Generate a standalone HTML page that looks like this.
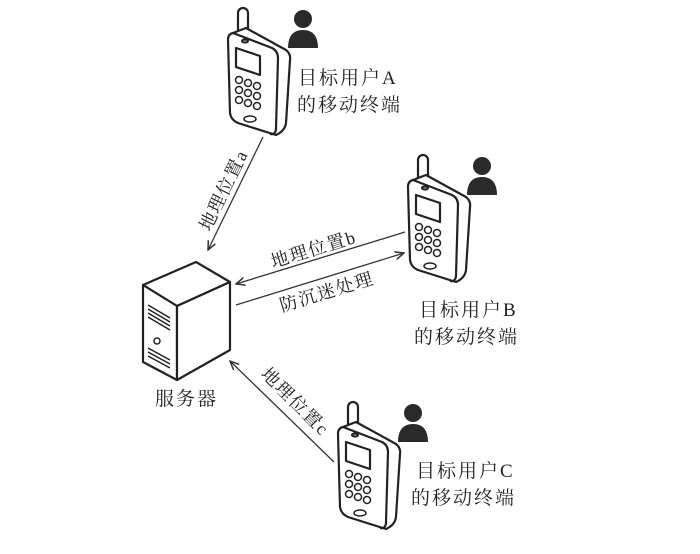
<!DOCTYPE html>
<html><head><meta charset="utf-8"><style>
body{margin:0;background:#fff;width:700px;height:549px;overflow:hidden}
svg text{font-family:"Liberation Serif","Noto Serif CJK SC",serif;fill:#222;font-size:19px;letter-spacing:2px}
svg text.r{font-size:18px;letter-spacing:1.5px}
</style></head><body>
<svg width="700" height="549" viewBox="0 0 700 549">
<defs>
<g id="ph" fill="#fff" stroke="#222" stroke-width="2.2" stroke-linejoin="round">
<rect x="10" y="0" width="10" height="28" rx="5"/>
<path d="M5,25 L18,20 L58,42 Q63,46 62,52 L58,115 Q57,123 48,127 L10,115 Q3,112 2,105 L0,32 Q0,26 5,25 Z"/>
<path d="M5,25 L44,40 Q50,43 50,50 L48,120 Q48,127 42,126" fill="none"/>
<path d="M8,40 L32,48 L32,67 L8,59 Z"/>
<ellipse cx="17" cy="33" rx="3" ry="1.5"/>
<g stroke-width="1.5">
<circle cx="11" cy="72" r="3.5"/><circle cx="20" cy="75" r="3.5"/><circle cx="29" cy="78" r="3.5"/>
<circle cx="11" cy="82" r="3.5"/><circle cx="20" cy="85" r="3.5"/><circle cx="29" cy="88" r="3.5"/>
<circle cx="11" cy="92" r="3.5"/><circle cx="20" cy="95" r="3.5"/><circle cx="29" cy="98" r="3.5"/>
<ellipse cx="22" cy="111" rx="6" ry="3"/>
</g>
</g>
<g id="pe" fill="#2a2a2a">
<circle cx="15" cy="11" r="9"/>
<path d="M0,40 Q0,22 15,22 Q30,22 30,40 Z"/>
</g>
<marker id="ar" markerWidth="10" markerHeight="10" refX="9" refY="5" orient="auto" markerUnits="userSpaceOnUse">
<path d="M0,1 L9,5 L0,9" fill="none" stroke="#333" stroke-width="1.5"/>
</marker>
</defs>

<use href="#ph" x="228" y="8"/>
<use href="#pe" x="288" y="8"/>
<use href="#ph" x="408" y="155"/>
<use href="#pe" x="467" y="155"/>
<use href="#ph" x="338" y="402"/>
<use href="#pe" x="398" y="402"/>

<g fill="#fff" stroke="#222" stroke-width="2.2" stroke-linejoin="round">
<path d="M143,285 L196,262 L230,282 L177,306 Z"/>
<path d="M143,285 L177,306 L177,380 L143,362 Z"/>
<path d="M177,306 L230,282 L230,350 L177,380 Z"/>
</g>
<g stroke="#222" stroke-width="1.5">
<line x1="148" y1="305" x2="170" y2="318"/><line x1="148" y1="309" x2="170" y2="322"/>
<line x1="148" y1="313" x2="170" y2="326"/><line x1="148" y1="317" x2="170" y2="330"/>
<line x1="148" y1="348" x2="170" y2="360"/><line x1="148" y1="352" x2="170" y2="364"/>
<line x1="148" y1="356" x2="170" y2="368"/>
<circle cx="157" cy="341" r="3" fill="#fff"/>
</g>

<g stroke="#333" stroke-width="1.3" fill="none">
<line x1="263" y1="137" x2="208" y2="250" marker-end="url(#ar)"/>
<line x1="405" y1="232" x2="236" y2="284" marker-end="url(#ar)"/>
<line x1="236" y1="305" x2="404" y2="253" marker-end="url(#ar)"/>
<line x1="334" y1="462" x2="230" y2="361" marker-end="url(#ar)"/>
</g>

<text class="r" transform="translate(210,232) rotate(-64)">地理位置a</text>
<text class="r" transform="translate(273,268) rotate(-17)">地理位置b</text>
<text class="r" transform="translate(282,312) rotate(-17)">防沉迷处理</text>
<text class="r" transform="translate(260,375) rotate(45)">地理位置c</text>

<text x="298" y="84">目标用户A</text>
<text x="297" y="111">的移动终端</text>
<text x="419" y="316">目标用户B</text>
<text x="414" y="343">的移动终端</text>
<text x="416" y="477">目标用户C</text>
<text x="411" y="504">的移动终端</text>
<text x="155" y="405">服务器</text>
</svg>
</body></html>
